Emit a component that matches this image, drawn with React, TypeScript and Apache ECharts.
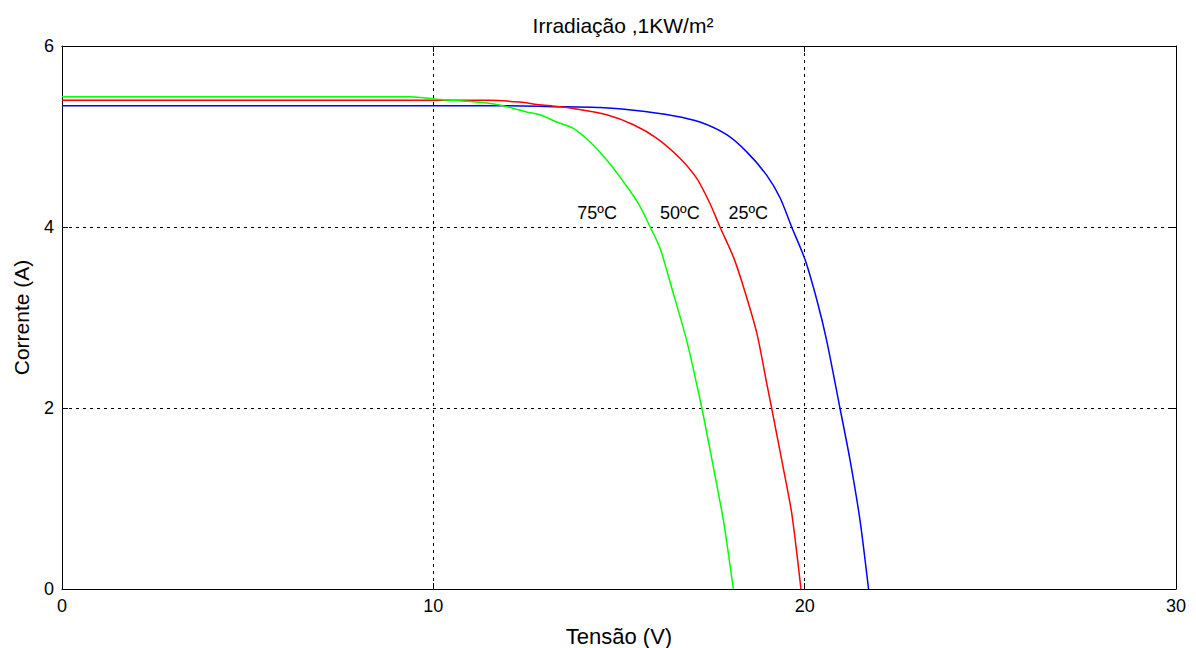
import React, { useEffect, useRef } from "react";
import * as echarts from "echarts";

const title = "Irradiação ,1KW/m²";
const xName = "Tensão (V)";
const yName = "Corrente (A)";

const v25 = [0, 11.8, 13.2, 14.49, 15.39, 16.46, 17.18, 17.9, 18.44, 18.98, 19.34, 19.65, 20.01, 20.33, 20.59, 20.95, 21.22, 21.49, 21.72];
const i25 = [5.34, 5.34, 5.33, 5.32, 5.29, 5.23, 5.16, 5.02, 4.83, 4.57, 4.32, 4.0, 3.64, 3.19, 2.75, 2.0, 1.43, 0.76, 0];

const v50 = [0, 11.5, 12.33, 12.87, 13.77, 14.67, 15.39, 16.02, 16.64, 17.09, 17.45, 17.72, 18.08, 18.35, 18.71, 18.98, 19.11, 19.38, 19.65, 19.9];
const i50 = [5.4, 5.4, 5.38, 5.35, 5.31, 5.24, 5.13, 4.98, 4.76, 4.54, 4.26, 4.0, 3.67, 3.34, 2.83, 2.27, 2.0, 1.43, 0.84, 0];

const v75 = [0, 9.37, 10.18, 11.44, 11.97, 12.51, 12.87, 13.32, 13.77, 14.22, 14.67, 15.12, 15.52, 15.84, 16.11, 16.46, 16.82, 17.23, 17.54, 17.81, 18.08];
const i75 = [5.44, 5.44, 5.41, 5.37, 5.33, 5.27, 5.24, 5.16, 5.09, 4.94, 4.74, 4.5, 4.26, 4.0, 3.76, 3.27, 2.75, 2.0, 1.35, 0.76, 0];

const labelTexts = ["75ºC", "50ºC", "25ºC"];
const labelV = [14.41, 16.64, 18.48];
const labelI = [4.15, 4.15, 4.15];

const xTicks = [0, 10, 20, 30];
const yTicks = [0, 2, 4, 6];

const narrow = "'Liberation Sans Narrow', 'Arial Narrow', 'Liberation Sans', Arial, sans-serif";
const sans = "'Liberation Sans', Arial, sans-serif";

function zip(v: number[], i: number[]) {
  return v.map((x, k) => [x, i[k]]);
}

export default function App() {
  const ref = useRef<HTMLDivElement>(null);
  useEffect(() => {
    if (!ref.current) return;
    const chart = echarts.init(ref.current, null, { renderer: "svg" });
    const mkSeries = (name: string, v: number[], i: number[], color: string, li: number) => ({
      name,
      type: "line",
      data: zip(v, i),
      showSymbol: false,
      symbol: "none",
      smooth: 0.25,
      lineStyle: { color, width: 1.5 },
      itemStyle: { color },
      z: 3,
      markPoint: {
        symbol: "circle",
        symbolSize: 0,
        silent: true,
        label: {
          show: true,
          formatter: "{b}",
          color: "#000",
          fontFamily: sans,
          fontSize: 18,
          position: "inside",
        },
        data: [{ name: labelTexts[li], coord: [labelV[li], labelI[li]] }],
      },
    });
    chart.setOption({
      animation: false,
      backgroundColor: "#fff",
      title: {
        text: title,
        left: 618,
        textAlign: "center",
        top: 10,
        textStyle: { fontFamily: narrow, fontSize: 21, fontWeight: "normal", color: "#000" },
      },
      grid: { left: 62, right: 20, top: 46, bottom: 59, show: false, containLabel: false, outerBoundsMode: "none" },
      xAxis: [
        {
          type: "value",
          min: 0,
          max: 30,
          interval: 10,
          name: xName,
          nameLocation: "middle",
          nameGap: 36,
          nameTextStyle: { fontFamily: sans, fontSize: 22, color: "#000" },
          axisLine: { show: true, lineStyle: { color: "#000", width: 1 } },
          axisTick: { show: true, inside: true, length: 6, lineStyle: { color: "#000" } },
          axisLabel: {
            fontFamily: narrow,
            fontSize: 18,
            color: "#000",
            margin: 8,
            formatter: (val: number) => (xTicks.includes(val) ? String(val) : ""),
          },
          splitLine: { show: true, lineStyle: { color: "#000", type: [3, 4], width: 1 } },
        },
        {
          type: "value",
          position: "top",
          min: 0,
          max: 30,
          interval: 10,
          axisLine: { show: true, onZero: false, lineStyle: { color: "#000", width: 1 } },
          axisTick: { show: true, inside: true, length: 6, lineStyle: { color: "#000" } },
          axisLabel: { show: false },
          splitLine: { show: false },
        },
      ],
      yAxis: [
        {
          type: "value",
          min: 0,
          max: 6,
          interval: 2,
          name: yName,
          nameLocation: "middle",
          nameGap: 30,
          nameTextStyle: { fontFamily: sans, fontSize: 21, color: "#000" },
          axisLine: { show: true, lineStyle: { color: "#000", width: 1 } },
          axisTick: { show: true, inside: true, length: 6, lineStyle: { color: "#000" } },
          axisLabel: {
            fontFamily: narrow,
            fontSize: 18,
            color: "#000",
            margin: 8,
            formatter: (val: number) => (yTicks.includes(val) ? String(val) : ""),
          },
          splitLine: { show: true, lineStyle: { color: "#000", type: [3, 4], width: 1 } },
        },
        {
          type: "value",
          position: "right",
          min: 0,
          max: 6,
          interval: 2,
          axisLine: { show: true, onZero: false, lineStyle: { color: "#000", width: 1 } },
          axisTick: { show: true, inside: true, length: 6, lineStyle: { color: "#000" } },
          axisLabel: { show: false },
          splitLine: { show: false },
        },
      ],
      series: [
        mkSeries("25ºC", v25, i25, "#0000ff", 2),
        mkSeries("50ºC", v50, i50, "#ff0000", 1),
        mkSeries("75ºC", v75, i75, "#00ff00", 0),
      ],
    });
    return () => chart.dispose();
  }, []);
  return (
    <div
      ref={ref}
      style={{ position: "absolute", left: 0, top: 0, width: 1196, height: 648, background: "#fff" }}
    />
  );
}
